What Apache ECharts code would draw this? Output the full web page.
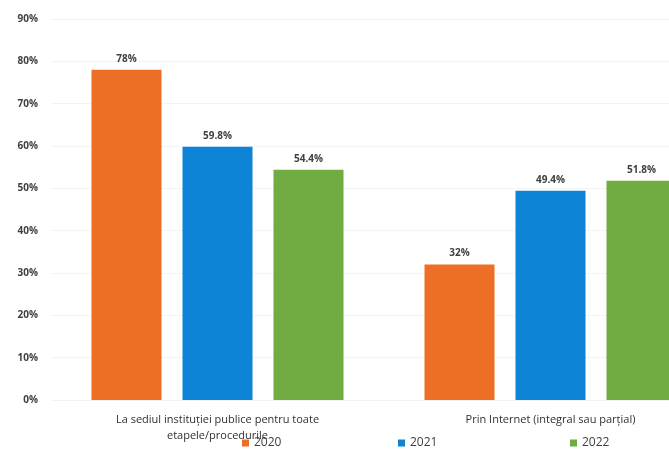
<!DOCTYPE html>
<html><head><meta charset="utf-8">
<script src="https://cdn.jsdelivr.net/npm/echarts@6/dist/echarts.min.js"></script>
<style>html,body{margin:0;padding:0;background:#fff}#c{width:669px;height:452px}</style>
</head><body><div id="c"></div>
<script>
const categories = ["La sediul instituției publice pentru toate\netapele/procedurile", "Prin Internet (integral sau parțial)"];
const seriesNames = ["2020", "2021", "2022"];
const v2020 = [78, 32];
const v2021 = [59.8, 49.4];
const v2022 = [54.4, 51.8];
const yTicks = [0, 10, 20, 30, 40, 50, 60, 70, 80, 90];
const colors = ["#EC6F25", "#0D84D6", "#70AC42"];

const font = "'Open Sans', 'Liberation Sans', sans-serif";
const data = [v2020, v2021, v2022];
const legendLeft = [237, 393, 565];
const chart = echarts.init(document.getElementById('c'));
chart.setOption({
  animation: false,
  textStyle: { fontFamily: font },
  grid: { left: 51, top: 19, width: 666, height: 381, containLabel: false, outerBoundsMode: 'none' },
  legend: seriesNames.map((n, i) => ({
    data: [n], bottom: -2, left: legendLeft[i],
    itemWidth: 7, itemHeight: 7, icon: 'rect', selectedMode: false,
    textStyle: { fontSize: 12, color: '#404040', fontFamily: font }
  })),
  xAxis: {
    type: 'category', data: categories,
    axisLine: { show: false }, axisTick: { show: false },
    axisLabel: { fontSize: 11, color: '#303030', margin: 12, lineHeight: 16, interval: 0, fontFamily: font }
  },
  yAxis: {
    type: 'value', min: yTicks[0], max: yTicks[yTicks.length - 1], interval: 10,
    axisLabel: { formatter: '{value}%', fontSize: 10, fontWeight: 'bold', color: '#404040', margin: 13, fontFamily: font },
    splitLine: { lineStyle: { color: '#f3f3f3' } },
    axisLine: { show: false }, axisTick: { show: false }
  },
  series: seriesNames.map((n, i) => ({
    name: n, type: 'bar', data: data[i], barWidth: 70, barGap: '30%',
    itemStyle: { color: colors[i] },
    label: { show: true, position: 'top', formatter: '{c}%', fontSize: 10, fontWeight: 'bold', color: '#404040', distance: 6, fontFamily: font }
  }))
});
</script></body></html>
